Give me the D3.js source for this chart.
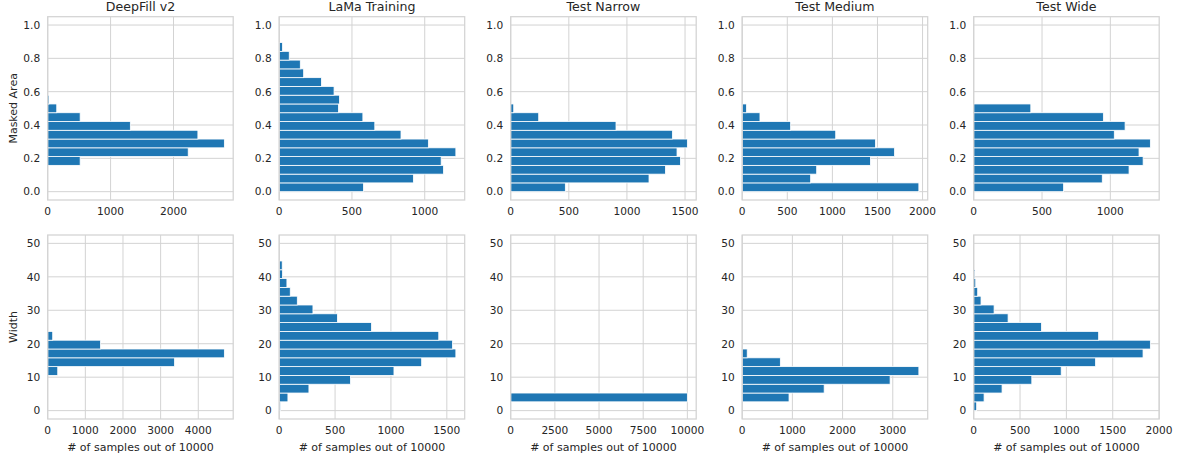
<!DOCTYPE html>
<html>
<head>
<meta charset="utf-8">
<script src="https://cdn.jsdelivr.net/npm/d3@7"></script>
<style>
  html, body { margin: 0; padding: 0; background: #ffffff; }
  svg { display: block; }
  text { font-family: "DejaVu Sans", sans-serif; fill: #262626; }
</style>
</head>
<body>
<svg id="chart" width="1184" height="457"></svg>
<script>
// Panel titles (one column per mask set)
const titles = ["DeepFill v2", "LaMa Training", "Test Narrow", "Test Medium", "Test Wide"];

// Masked-area histograms: 19 equal bins on [0, 1]; counts listed from the lowest occupied bin upward
const areaBinCount = 19;
const areaFirstBin = [3, 0, 0, 0, 0];
const areaDeepFill = [516, 2234, 2809, 2388, 1314, 516, 144, 20];
const areaLamaTrain = [579, 922, 1129, 1113, 1214, 1025, 837, 657, 575, 407, 414, 377, 290, 168, 145, 69, 23];
const areaTestNarrow = [470, 1190, 1331, 1460, 1431, 1520, 1391, 906, 241, 26];
const areaTestMedium = [1959, 759, 826, 1422, 1689, 1478, 1037, 537, 197, 48];
const areaTestWide = [658, 941, 1137, 1240, 1210, 1293, 1029, 1108, 949, 418];

// Stroke-width histograms: 19 equal bins on [0, 50]
const widthBinCount = 19;
const widthFirstBin = [4, 0, 1, 1, 0];
const widthDeepFill = [267, 3369, 4693, 1404, 133];
const widthLamaTrain = [12, 78, 266, 638, 1027, 1275, 1581, 1551, 1428, 826, 521, 302, 162, 99, 69, 30, 27];
const widthTestNarrow = [10000];
const widthTestMedium = [933, 1633, 2947, 3520, 760, 100];
const widthTestWide = [32, 112, 306, 627, 944, 1315, 1827, 1906, 1348, 731, 371, 220, 79, 43, 22, 11];

// Axis ticks
const areaTicks = [0, 0.2, 0.4, 0.6, 0.8, 1.0];
const widthTicks = [0, 10, 20, 30, 40, 50];
const areaCountTicks = [
  [0, 1000, 2000],
  [0, 500, 1000],
  [0, 500, 1000, 1500],
  [0, 500, 1000, 1500, 2000],
  [0, 500, 1000]
];
const widthCountTicks = [
  [0, 1000, 2000, 3000, 4000],
  [0, 500, 1000, 1500],
  [0, 2500, 5000, 7500, 10000],
  [0, 1000, 2000, 3000],
  [0, 500, 1000, 1500, 2000]
];

const areaSeries = [areaDeepFill, areaLamaTrain, areaTestNarrow, areaTestMedium, areaTestWide];
const widthSeries = [widthDeepFill, widthLamaTrain, widthTestNarrow, widthTestMedium, widthTestWide];

const svg = d3.select("#chart");
const gridColor = "#d3d3d3";
const barColor = "#1f77b4";

const colLeft0 = 47.7, colStep = 231.5, plotW = 185.5;
const rows = [
  { top: 16.7, bottom: 200, range: [0, 1], lim: [-0.05, 1.05], nb: areaBinCount, first: areaFirstBin,
    series: areaSeries, yTicks: areaTicks, xTicks: areaCountTicks, yFmt: d3.format(".1f"), ylabel: "Masked Area" },
  { top: 235, bottom: 419, range: [0, 50], lim: [-2.5, 52.5], nb: widthBinCount, first: widthFirstBin,
    series: widthSeries, yTicks: widthTicks, xTicks: widthCountTicks, yFmt: d3.format("d"), ylabel: "Width" }
];

rows.forEach((row, ri) => {
  row.series.forEach((counts, ci) => {
    const left = colLeft0 + colStep * ci;
    const right = left + plotW;
    const g = svg.append("g");

    const y = d3.scaleLinear().domain(row.lim).range([row.bottom, row.top]);
    const x = d3.scaleLinear().domain([0, d3.max(counts) * 1.05]).range([left, right]);
    const binW = (row.range[1] - row.range[0]) / row.nb;

    const bins = counts.map((c, i) => {
      const k = row.first[ci] + i;
      return { x0: row.range[0] + k * binW, x1: row.range[0] + (k + 1) * binW, count: c };
    });

    // grid
    g.selectAll(".hgrid").data(row.yTicks).join("line")
      .attr("x1", left).attr("x2", right)
      .attr("y1", d => y(d)).attr("y2", d => y(d))
      .attr("stroke", gridColor).attr("stroke-width", 1);
    g.selectAll(".vgrid").data(row.xTicks[ci]).join("line")
      .attr("x1", d => x(d)).attr("x2", d => x(d))
      .attr("y1", row.top).attr("y2", row.bottom)
      .attr("stroke", gridColor).attr("stroke-width", 1);

    // bars
    g.append("g").selectAll("rect").data(bins).join("rect")
      .attr("x", x(0))
      .attr("y", d => y(d.x1))
      .attr("width", d => x(d.count) - x(0))
      .attr("height", d => y(d.x0) - y(d.x1))
      .attr("fill", barColor)
      .attr("stroke", "#ffffff")
      .attr("stroke-width", 0.8);

    // frame
    g.append("rect")
      .attr("x", left).attr("y", row.top)
      .attr("width", plotW).attr("height", row.bottom - row.top)
      .attr("fill", "none").attr("stroke", gridColor).attr("stroke-width", 1.25);

    // y tick labels
    g.selectAll(".ylab").data(row.yTicks).join("text")
      .attr("x", left - 7.5)
      .attr("y", d => y(d))
      .attr("dy", "0.36em")
      .attr("text-anchor", "end")
      .attr("font-size", "10.6px")
      .text(d => row.yFmt(d));

    // x tick labels
    g.selectAll(".xlab").data(row.xTicks[ci]).join("text")
      .attr("x", d => x(d))
      .attr("y", row.bottom + 15.3)
      .attr("text-anchor", "middle")
      .attr("font-size", "10.6px")
      .text(d => d3.format("d")(d));

    if (ri === 0) {
      g.append("text")
        .attr("x", (left + right) / 2)
        .attr("y", 11.3)
        .attr("text-anchor", "middle")
        .attr("font-size", "12.6px")
        .text(titles[ci]);
    } else {
      g.append("text")
        .attr("x", (left + right) / 2)
        .attr("y", 450.5)
        .attr("text-anchor", "middle")
        .attr("font-size", "11px")
        .text("# of samples out of 10000");
    }

    if (ci === 0) {
      g.append("text")
        .attr("transform", `translate(16.5,${(row.top + row.bottom) / 2}) rotate(-90)`)
        .attr("text-anchor", "middle")
        .attr("font-size", "11px")
        .text(row.ylabel);
    }
  });
});
</script>
</body>
</html>
